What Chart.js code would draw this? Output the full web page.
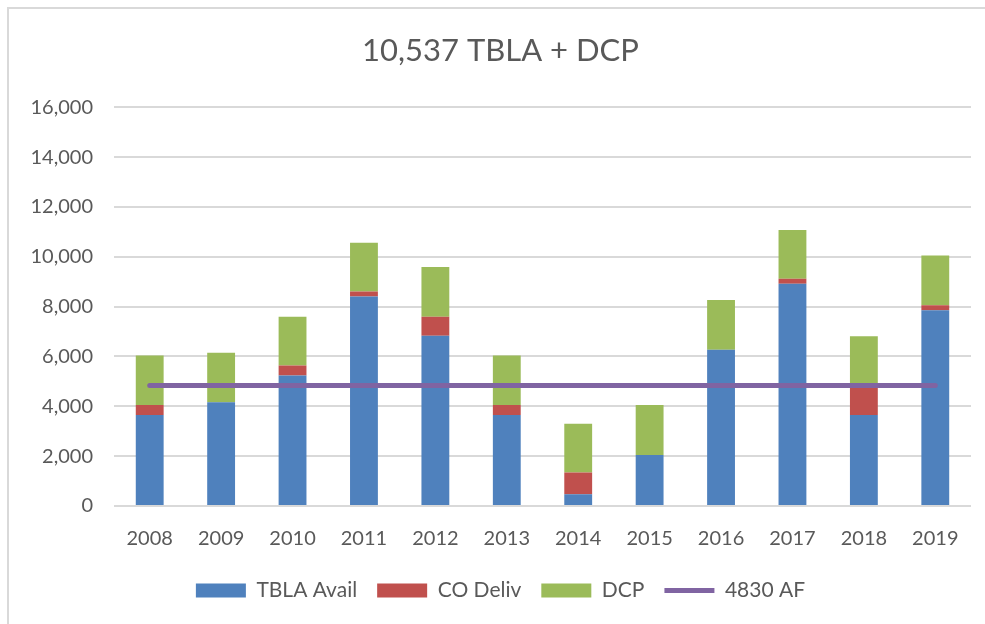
<!DOCTYPE html>
<html>
<head>
<meta charset="utf-8">
<script src="https://cdn.jsdelivr.net/npm/chart.js@4/dist/chart.umd.min.js"></script>
<style>
  html, body { margin: 0; padding: 0; background: #ffffff; overflow: hidden; }
  #wrap { position: relative; width: 985px; height: 624px; }
  #frame { position: absolute; left: 7px; top: 7px; width: 1000px; height: 700px; border: 2px solid #d9d9d9; box-sizing: border-box; }
  #c { position: absolute; left: 0; top: 0; }
</style>
</head>
<body>
<div id="wrap">
  <div id="frame"></div>
  <canvas id="c" width="985" height="624"></canvas>
</div>
<script>
const years = ['2008','2009','2010','2011','2012','2013','2014','2015','2016','2017','2018','2019'];
const tblaAvail = [3650, 4160, 5240, 8410, 6830, 3650, 470, 2050, 6270, 8920, 3650, 7850];
const coDeliv   = [400, 0, 400, 200, 760, 400, 870, 0, 0, 200, 1280, 200];
const dcp       = [1990, 1990, 1950, 1950, 2000, 1990, 1960, 2000, 1990, 1950, 1880, 2000];
const af4830    = [4830, 4830, 4830, 4830, 4830, 4830, 4830, 4830, 4830, 4830, 4830, 4830];
const titleText = '10,537 TBLA + DCP';

const FONT = 'Lato, "Open Sans", sans-serif';
const TXT = '#595959';

new Chart(document.getElementById('c'), {
  data: {
    labels: years,
    datasets: [
      { type: 'bar', label: 'TBLA Avail', data: tblaAvail, backgroundColor: '#4f81bd', borderWidth: 0, order: 1, pointStyle: 'rect' },
      { type: 'bar', label: 'CO Deliv', data: coDeliv, backgroundColor: '#c0504d', borderWidth: 0, order: 1, pointStyle: 'rect' },
      { type: 'bar', label: 'DCP', data: dcp, backgroundColor: '#9bbb59', borderWidth: 0, order: 1, pointStyle: 'rect' },
      { type: 'line', label: '4830 AF', data: af4830, borderColor: '#8064a2', backgroundColor: '#8064a2',
        borderWidth: 5, borderCapStyle: 'round', pointRadius: 0, pointHoverRadius: 0, order: 0, pointStyle: 'line', fill: false }
    ]
  },
  options: {
    responsive: false,
    animation: false,
    devicePixelRatio: 1,
    datasets: { bar: { categoryPercentage: 1, barPercentage: 0.39 } },
    layout: { padding: { left: 30, right: 14, top: 0, bottom: 13 } },
    plugins: {
      tooltip: { enabled: false },
      title: {
        display: true, text: titleText, color: TXT,
        font: { family: FONT, size: 31, weight: 'normal', lineHeight: 1.2 },
        padding: { top: 32, bottom: 38 }
      },
      legend: {
        position: 'bottom',
        labels: {
          usePointStyle: true, pointStyleWidth: 50, boxWidth: 50, boxHeight: 14,
          padding: 20, color: TXT,
          font: { family: FONT, size: 21 },
          sort: (a, b) => a.datasetIndex - b.datasetIndex
        }
      }
    },
    scales: {
      x: {
        stacked: true,
        grid: { display: false, drawTicks: false },
        border: { display: false },
        ticks: { color: TXT, font: { family: FONT, size: 20 }, padding: 21, maxRotation: 0 },
        afterFit: (s) => { s.height = 54; }
      },
      y: {
        stacked: true,
        min: 0, max: 16000,
        grid: { color: '#d9d9d9', lineWidth: 2, drawTicks: false },
        border: { display: false },
        ticks: { stepSize: 2000, color: TXT, font: { family: FONT, size: 20 }, padding: 21,
          callback: (v) => v.toLocaleString('en-US') },
        afterFit: (s) => { s.width = 84; }
      }
    }
  }
});
</script>
</body>
</html>
